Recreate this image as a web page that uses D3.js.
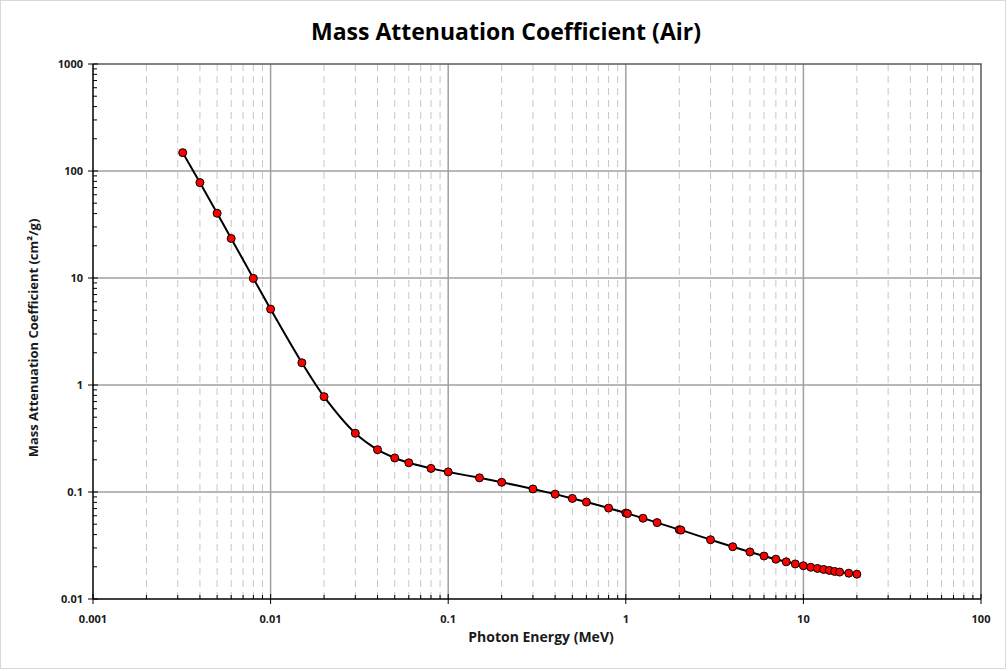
<!DOCTYPE html>
<html>
<head>
<meta charset="utf-8">
<script src="https://cdn.jsdelivr.net/npm/d3@7"></script>
<style>
  body { margin: 0; background: #fff; }
  svg { display: block; font-family: "Open Sans", "Noto Sans", sans-serif; }
</style>
</head>
<body>
<div id="chart"></div>
<script>
// photon energy (MeV) and mass attenuation coefficient (cm²/g)
const energy = [0.0032, 0.004, 0.005, 0.006, 0.008, 0.01, 0.015, 0.02, 0.03, 0.04,
  0.05, 0.06, 0.08, 0.1, 0.15, 0.2, 0.3, 0.4, 0.5, 0.6, 0.8, 1, 1.022, 1.25, 1.5,
  2, 2.044, 3, 4, 5, 6, 7, 8, 9, 10, 11, 12, 13, 14, 15, 16, 18, 20];
const mu = [148.5, 77.88, 40.27, 23.41, 9.921, 5.12, 1.614, 0.7779, 0.3538, 0.2485,
  0.208, 0.1875, 0.1662, 0.1541, 0.1356, 0.1233, 0.1067, 0.09549, 0.08712, 0.08055,
  0.07074, 0.06358, 0.06289, 0.05687, 0.05175, 0.04447, 0.04406, 0.03581, 0.03079,
  0.02751, 0.02522, 0.02355, 0.02225, 0.02126, 0.02045, 0.0198, 0.0193, 0.0189,
  0.0185, 0.0181, 0.01785, 0.01742, 0.01705];

const xTicks = [0.001, 0.01, 0.1, 1, 10, 100];
const xTickLabels = ["0.001", "0.01", "0.1", "1", "10", "100"];
const yTicks = [0.01, 0.1, 1, 10, 100, 1000];
const yTickLabels = ["0.01", "0.1", "1", "10", "100", "1000"];

const W = 1008, H = 671;
const m = { left: 93, right: 981, top: 64, bottom: 599 };

const svg = d3.select("#chart").append("svg")
  .attr("width", W)
  .attr("height", H);

svg.append("rect")
  .attr("x", 0.5).attr("y", 0.5)
  .attr("width", W - 3).attr("height", H - 3)
  .attr("fill", "#fff")
  .attr("stroke", "#d9d9d9");

const x = d3.scaleLog().domain([0.001, 100]).range([m.left, m.right]);
const y = d3.scaleLog().domain([0.01, 1000]).range([m.bottom, m.top]);

// minor positions 2..9 in every decade
const minorX = [];
for (let d = -3; d < 2; d++) {
  for (let k = 2; k <= 9; k++) minorX.push(k * Math.pow(10, d));
}
const minorY = [];
for (let d = -2; d < 3; d++) {
  for (let k = 2; k <= 9; k++) minorY.push(k * Math.pow(10, d));
}

const grid = svg.append("g");

grid.selectAll(".minor-x")
  .data(minorX)
  .enter().append("line")
    .attr("x1", d => x(d)).attr("x2", d => x(d))
    .attr("y1", m.top).attr("y2", m.bottom)
    .attr("stroke", "#c6c6c6")
    .attr("stroke-width", 1)
    .attr("stroke-dasharray", "7,5");

grid.selectAll(".major-x")
  .data(xTicks.slice(1, -1))
  .enter().append("line")
    .attr("x1", d => x(d)).attr("x2", d => x(d))
    .attr("y1", m.top).attr("y2", m.bottom)
    .attr("stroke", "#a0a0a0")
    .attr("stroke-width", 1.5);

grid.selectAll(".major-y")
  .data(yTicks.slice(1, -1))
  .enter().append("line")
    .attr("x1", m.left).attr("x2", m.right)
    .attr("y1", d => y(d)).attr("y2", d => y(d))
    .attr("stroke", "#a0a0a0")
    .attr("stroke-width", 1.5);

// plot frame (top and right)
svg.append("path")
  .attr("d", `M${m.left},${m.top}H${m.right}V${m.bottom}`)
  .attr("fill", "none")
  .attr("stroke", "#595959")
  .attr("stroke-width", 1.5);

// axes
const xAxis = svg.append("g").attr("transform", `translate(0,${m.bottom})`);
xAxis.append("line")
  .attr("x1", m.left).attr("x2", m.right)
  .attr("stroke", "#000").attr("stroke-width", 1.5);
xAxis.selectAll(".tick-maj")
  .data(xTicks)
  .enter().append("line")
    .attr("x1", d => x(d)).attr("x2", d => x(d))
    .attr("y1", -5).attr("y2", 5)
    .attr("stroke", "#000").attr("stroke-width", 1);
xAxis.selectAll(".tick-min")
  .data(minorX)
  .enter().append("line")
    .attr("x1", d => x(d)).attr("x2", d => x(d))
    .attr("y1", -4).attr("y2", 0)
    .attr("stroke", "#000").attr("stroke-width", 1);
xAxis.selectAll("text")
  .data(xTicks)
  .enter().append("text")
    .attr("x", d => x(d))
    .attr("y", 24)
    .attr("text-anchor", "middle")
    .attr("font-size", 11)
    .attr("font-weight", "bold")
    .attr("fill", "#1a1a1a")
    .text((d, i) => xTickLabels[i]);

const yAxis = svg.append("g").attr("transform", `translate(${m.left},0)`);
yAxis.append("line")
  .attr("y1", m.top).attr("y2", m.bottom)
  .attr("stroke", "#000").attr("stroke-width", 1.5);
yAxis.selectAll(".tick-maj")
  .data(yTicks)
  .enter().append("line")
    .attr("y1", d => y(d)).attr("y2", d => y(d))
    .attr("x1", -5).attr("x2", 5)
    .attr("stroke", "#000").attr("stroke-width", 1);
yAxis.selectAll(".tick-min")
  .data(minorY)
  .enter().append("line")
    .attr("y1", d => y(d)).attr("y2", d => y(d))
    .attr("x1", 0).attr("x2", 4)
    .attr("stroke", "#000").attr("stroke-width", 1);
yAxis.selectAll("text")
  .data(yTicks)
  .enter().append("text")
    .attr("x", -10)
    .attr("y", d => y(d))
    .attr("dy", "0.35em")
    .attr("text-anchor", "end")
    .attr("font-size", 11)
    .attr("font-weight", "bold")
    .attr("fill", "#1a1a1a")
    .text((d, i) => yTickLabels[i]);

// titles
svg.append("text")
  .attr("x", 506)
  .attr("y", 40)
  .attr("text-anchor", "middle")
  .attr("font-size", 23)
  .attr("font-weight", "bold")
  .attr("fill", "#000")
  .text("Mass Attenuation Coefficient (Air)");

svg.append("text")
  .attr("x", 541)
  .attr("y", 642)
  .attr("text-anchor", "middle")
  .attr("font-size", 14)
  .attr("font-weight", "bold")
  .attr("fill", "#1a1a1a")
  .text("Photon Energy (MeV)");

svg.append("text")
  .attr("transform", `translate(38,338) rotate(-90)`)
  .attr("text-anchor", "middle")
  .attr("font-size", 13)
  .attr("font-weight", "bold")
  .attr("fill", "#1a1a1a")
  .text("Mass Attenuation Coefficient (cm²/g)");

// series
const pts = energy.map((e, i) => [e, mu[i]]);

const line = d3.line()
  .x(d => x(d[0]))
  .y(d => y(d[1]))
  .curve(d3.curveCatmullRom.alpha(0.5));

svg.append("path")
  .datum(pts)
  .attr("d", line)
  .attr("fill", "none")
  .attr("stroke", "#000")
  .attr("stroke-width", 2);

svg.append("g")
  .selectAll("circle")
  .data(pts)
  .enter().append("circle")
    .attr("cx", d => x(d[0]))
    .attr("cy", d => y(d[1]))
    .attr("r", 4)
    .attr("fill", "#ff0000")
    .attr("stroke", "#000")
    .attr("stroke-width", 1);
</script>
</body>
</html>
